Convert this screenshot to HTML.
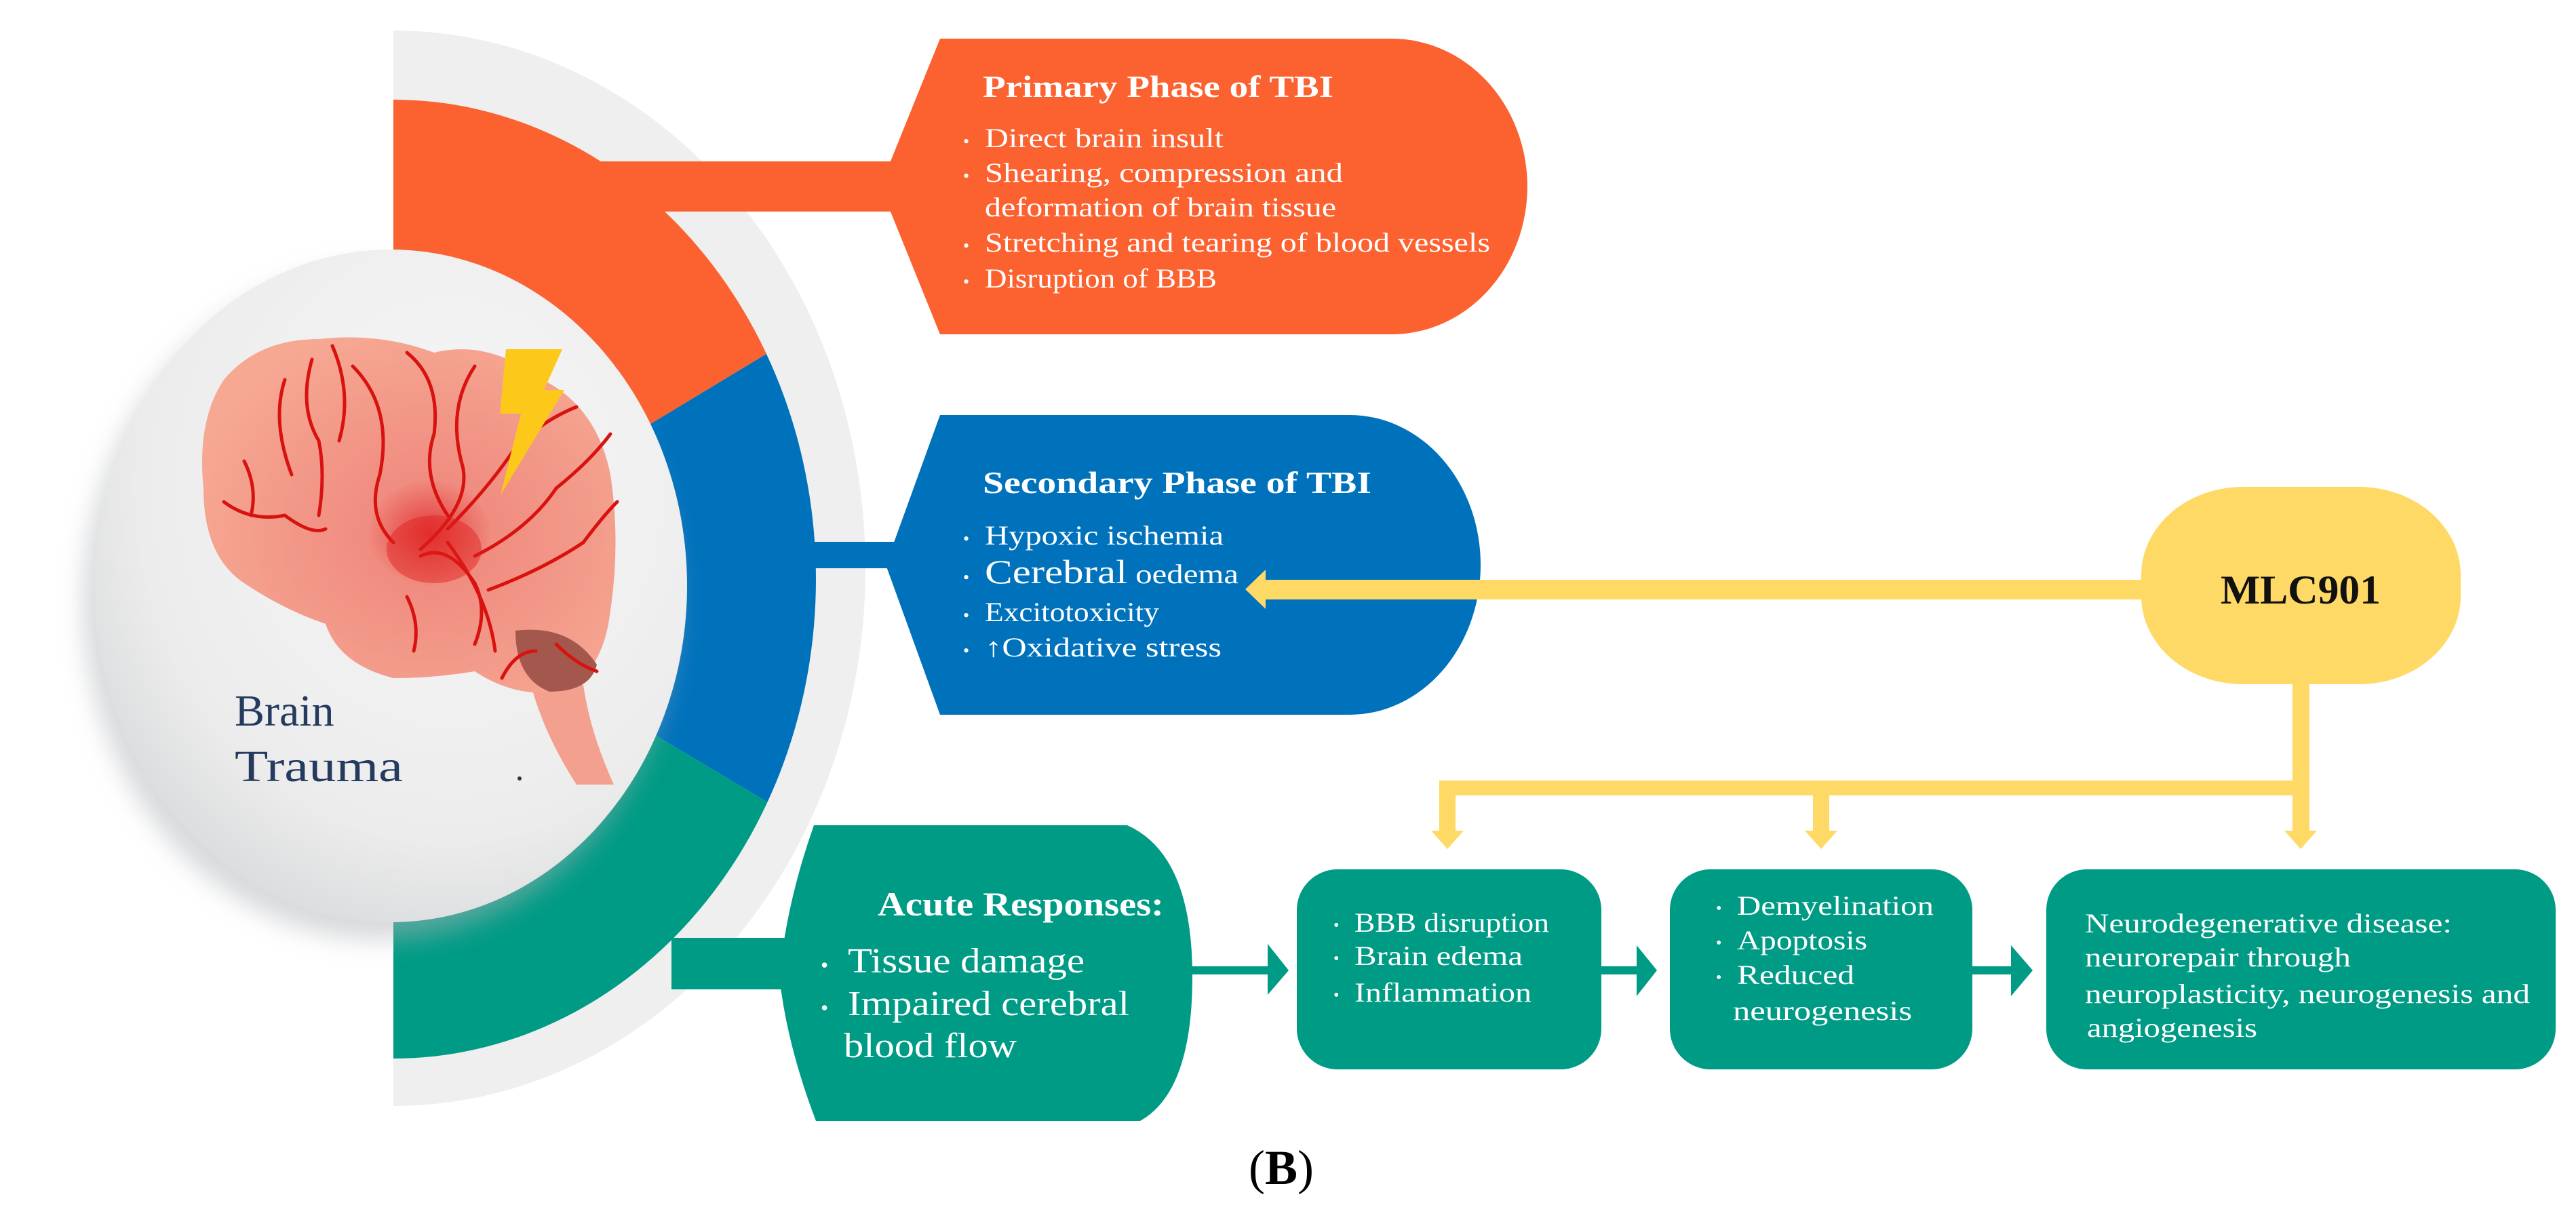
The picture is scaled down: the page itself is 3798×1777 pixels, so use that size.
<!DOCTYPE html>
<html><head><meta charset="utf-8"><style>
html,body{margin:0;padding:0;background:#fff}
svg{display:block}
text{font-family:"Liberation Serif",serif}
</style></head><body>
<svg width="3798" height="1777" viewBox="0 0 3798 1777" xmlns="http://www.w3.org/2000/svg">
<defs>
<clipPath id="rh"><rect x="580" y="0" width="1000" height="1777"/></clipPath>
<clipPath id="ring"><ellipse cx="580" cy="854" rx="623" ry="707"/></clipPath>
<radialGradient id="disc" cx="0.6" cy="0.35" r="0.75">
<stop offset="0" stop-color="#f7f7f7"/><stop offset="0.7" stop-color="#ececec"/><stop offset="1" stop-color="#d4d6d8"/></radialGradient>
<radialGradient id="brain" cx="0.55" cy="0.55" r="0.6">
<stop offset="0" stop-color="#e23a3a"/><stop offset="0.25" stop-color="#f08c80"/><stop offset="1" stop-color="#f6a893"/></radialGradient>
<filter id="sh" x="-20%" y="-20%" width="140%" height="140%"><feGaussianBlur stdDeviation="18"/></filter>
</defs>

<ellipse cx="580" cy="838" rx="696" ry="793" fill="#efefef" clip-path="url(#rh)"/>
<g clip-path="url(#rh)"><g clip-path="url(#ring)">
<polygon points="580,854 580,0 1400,0 1400,359" fill="#fc6130"/>
<polygon points="580,854 1400,359 1400,1343" fill="#0072bc"/>
<polygon points="580,854 1400,1343 1400,1777 580,1777" fill="#009b85"/>
</g></g>

<rect x="880" y="238" width="440" height="74" fill="#fc6130"/>
<rect x="1150" y="799" width="170" height="39" fill="#0072bc"/>
<rect x="990" y="1383" width="200" height="76" fill="#009b85"/>

<ellipse cx="560" cy="890" rx="437" ry="496" fill="#b0b4b8" opacity="0.5" filter="url(#sh)"/>
<ellipse cx="576" cy="864" rx="437" ry="496" fill="url(#disc)"/>

<g>
<path d="M780,1000 Q800,1080 850,1157 L905,1157 Q870,1080 860,1010 Z" fill="#f3a08e"/>
<path d="M330,560 Q380,500 470,500 Q560,490 640,520 Q720,500 800,560 Q880,600 900,700 Q915,800 900,900 Q890,990 830,1020 Q760,1030 700,990 Q640,1000 580,1000 Q500,980 480,920 Q420,900 360,860 Q300,820 300,720 Q290,620 330,560 Z" fill="url(#brain)"/>
<path d="M760,930 Q840,920 880,980 Q870,1020 810,1020 Q760,1000 760,930 Z" fill="#a4574c"/>
<g fill="none" stroke="#d8130f" stroke-width="5" stroke-linecap="round">
<path d="M420,560 Q400,620 430,700"/><path d="M460,530 Q440,600 470,650 Q480,700 470,760"/>
<path d="M490,510 Q520,580 500,650"/><path d="M520,540 Q580,600 560,700 Q540,760 580,800"/>
<path d="M600,520 Q650,560 640,640 Q620,700 660,760"/><path d="M700,540 Q660,600 680,680 Q700,740 620,810"/>
<path d="M620,820 Q660,800 700,860 Q720,900 700,950"/><path d="M660,780 Q720,720 760,660 Q800,620 850,600"/>
<path d="M700,820 Q780,780 820,720 Q870,680 900,640"/><path d="M720,870 Q800,840 860,800 Q890,760 910,740"/>
<path d="M660,800 Q720,880 730,960"/><path d="M330,740 Q370,770 420,760 Q460,790 480,780"/>
<path d="M360,680 Q380,720 370,760"/><path d="M740,1000 Q760,960 790,960"/>
<path d="M820,950 Q850,980 880,990"/><path d="M600,880 Q620,920 610,960"/>
</g>
<ellipse cx="640" cy="810" rx="70" ry="50" fill="#e0201c" opacity="0.45"/>
</g>
<polygon points="746,515 829,515 802,575 832,575 738,730 768,610 737,610" fill="#fcc81a"/>
<text x="346" y="1070" font-size="66" fill="#243a5e">Brain</text>
<text x="346" y="1152" font-size="66" fill="#243a5e" textLength="248" lengthAdjust="spacingAndGlyphs">Trauma</text>
<circle cx="766" cy="1148" r="3" fill="#333"/>

<path d="M1386,57 H2052 A200 218 0 0 1 2052,493 H1386 L1298,275 Z" fill="#fc6130"/>
<g fill="#fff">
<text x="1449" y="143" font-size="46" font-weight="bold" textLength="517" lengthAdjust="spacingAndGlyphs">Primary Phase of TBI</text>
<g font-size="40">
<text x="1420" y="217" font-size="26">•</text><text x="1452" y="217" textLength="352" lengthAdjust="spacingAndGlyphs">Direct brain insult</text>
<text x="1420" y="268" font-size="26">•</text><text x="1452" y="268" textLength="528" lengthAdjust="spacingAndGlyphs">Shearing, compression and</text>
<text x="1452" y="319" textLength="518" lengthAdjust="spacingAndGlyphs">deformation of brain tissue</text>
<text x="1420" y="371" font-size="26">•</text><text x="1452" y="371" textLength="745" lengthAdjust="spacingAndGlyphs">Stretching and tearing of blood vessels</text>
<text x="1420" y="424" font-size="26">•</text><text x="1452" y="424" textLength="342" lengthAdjust="spacingAndGlyphs">Disruption of BBB</text>
</g></g>

<path d="M1386,612 H1990 A193 221 0 0 1 1990,1054 H1386 L1306,833 Z" fill="#0072bc"/>
<g fill="#fff">
<text x="1449" y="727" font-size="46" font-weight="bold" textLength="573" lengthAdjust="spacingAndGlyphs">Secondary Phase of TBI</text>
<g font-size="40">
<text x="1420" y="803" font-size="26">•</text><text x="1452" y="803" textLength="352" lengthAdjust="spacingAndGlyphs">Hypoxic ischemia</text>
<text x="1420" y="860" font-size="26">•</text><text x="1452" y="860" textLength="374" lengthAdjust="spacingAndGlyphs"><tspan font-size="50">Cerebral</tspan> oedema</text>
<text x="1420" y="916" font-size="26">•</text><text x="1452" y="916" textLength="257" lengthAdjust="spacingAndGlyphs">Excitotoxicity</text>
<text x="1420" y="968" font-size="26">•</text><text x="1452" y="968" textLength="349" lengthAdjust="spacingAndGlyphs">↑Oxidative stress</text>
</g></g>

<path d="M1200,1217 H1662 Q1758,1260 1758,1440 Q1758,1610 1681,1653 H1203 Q1160,1540 1149,1440 Q1160,1330 1200,1217 Z" fill="#009b85"/>
<g fill="#fff">
<text x="1294" y="1350" font-size="50" font-weight="bold" textLength="422" lengthAdjust="spacingAndGlyphs">Acute Responses:</text>
<text x="1210" y="1434" font-size="32">•</text><text x="1250" y="1434" font-size="52" textLength="349" lengthAdjust="spacingAndGlyphs">Tissue damage</text>
<text x="1210" y="1497" font-size="32">•</text><text x="1250" y="1497" font-size="52" textLength="415" lengthAdjust="spacingAndGlyphs">Impaired cerebral</text>
<text x="1244" y="1559" font-size="52" textLength="255" lengthAdjust="spacingAndGlyphs">blood flow</text>
</g>

<g fill="#009b85">
<rect x="1755" y="1425" width="118" height="12"/><polygon points="1869,1392 1900,1431 1869,1467"/>
<rect x="2361" y="1425" width="55" height="12"/><polygon points="2413,1394 2443,1431 2413,1469"/>
<rect x="2908" y="1425" width="60" height="12"/><polygon points="2965,1394 2997,1431 2965,1469"/>
</g>

<rect x="1912" y="1282" width="449" height="295" rx="60" fill="#009b85"/>
<rect x="2462" y="1282" width="446" height="295" rx="60" fill="#009b85"/>
<rect x="3017" y="1282" width="751" height="295" rx="60" fill="#009b85"/>
<g fill="#fff" font-size="40">
<text x="1966" y="1372" font-size="24">•</text><text x="1997" y="1374" textLength="287" lengthAdjust="spacingAndGlyphs">BBB disruption</text>
<text x="1966" y="1421" font-size="24">•</text><text x="1997" y="1423" textLength="248" lengthAdjust="spacingAndGlyphs">Brain edema</text>
<text x="1966" y="1475" font-size="24">•</text><text x="1997" y="1477" textLength="261" lengthAdjust="spacingAndGlyphs">Inflammation</text>
<text x="2530" y="1347" font-size="24">•</text><text x="2561" y="1349" textLength="290" lengthAdjust="spacingAndGlyphs">Demyelination</text>
<text x="2530" y="1398" font-size="24">•</text><text x="2561" y="1400" textLength="192" lengthAdjust="spacingAndGlyphs">Apoptosis</text>
<text x="2530" y="1449" font-size="24">•</text><text x="2561" y="1451" textLength="173" lengthAdjust="spacingAndGlyphs">Reduced</text>
<text x="2555" y="1504" textLength="264" lengthAdjust="spacingAndGlyphs">neurogenesis</text>
<text x="3074" y="1375" textLength="541" lengthAdjust="spacingAndGlyphs">Neurodegenerative disease:</text>
<text x="3074" y="1425" textLength="392" lengthAdjust="spacingAndGlyphs">neurorepair through</text>
<text x="3074" y="1479" textLength="656" lengthAdjust="spacingAndGlyphs">neuroplasticity, neurogenesis and</text>
<text x="3077" y="1529" textLength="251" lengthAdjust="spacingAndGlyphs">angiogenesis</text>
</g>

<g fill="#ffd966">
<rect x="1860" y="855" width="1320" height="29"/>
<polygon points="1836,869 1866,840 1866,898"/>
<rect x="3157" y="718" width="471" height="291" rx="150" ry="130"/>
<rect x="3380" y="1000" width="25" height="230"/>
<rect x="2122" y="1151" width="1283" height="22"/>
<rect x="2122" y="1151" width="24" height="80"/>
<rect x="2673" y="1151" width="24" height="80"/>
<polygon points="2110,1225 2158,1225 2134,1252"/>
<polygon points="2661,1225 2709,1225 2685,1252"/>
<polygon points="3368,1225 3416,1225 3392,1252"/>
</g>
<text x="3392" y="890" font-size="60" font-weight="bold" text-anchor="middle" fill="#111" textLength="236" lengthAdjust="spacingAndGlyphs">MLC901</text>

<text x="1889" y="1746" font-size="72" text-anchor="middle" fill="#000">(<tspan font-weight="bold">B</tspan>)</text>
</svg>
</body></html>
